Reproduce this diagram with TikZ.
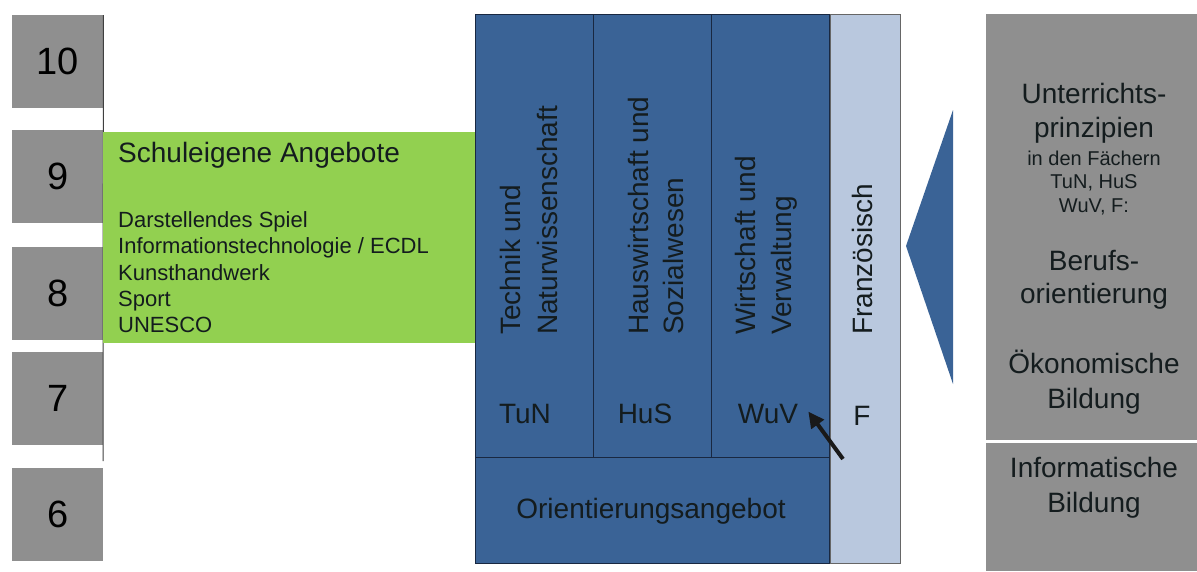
\documentclass[tikz,border=0pt]{standalone}
\usepackage{fontspec}
\setmainfont{Liberation Sans}
\usetikzlibrary{arrows.meta}
\definecolor{gradegray}{RGB}{143,143,143}
\definecolor{offergreen}{RGB}{146,208,80}
\definecolor{wpkblue}{RGB}{58,99,150}
\definecolor{franzblue}{RGB}{185,200,222}
\definecolor{wpkline}{RGB}{25,40,65}
\definecolor{darktext}{RGB}{20,28,30}
\begin{document}
\begin{tikzpicture}[x=1pt,y=-1pt,
    box/.style={rectangle,inner sep=0pt,anchor=north west},
    grade/.style={box,fill=gradegray,minimum width=91pt,minimum height=93pt,
      font=\fontsize{38}{40}\selectfont},
    wpk/.style={box,fill=wpkblue,draw=wpkline,line width=1.2pt,
      minimum width=118pt,minimum height=443pt},
    lbl/.style={inner sep=0pt,anchor=base,text=darktext,font=\fontsize{28}{32}\selectfont},
    vlbl/.style={lbl,anchor=base west,rotate=90},
    item/.style={inner sep=0pt,anchor=base west,text=darktext,font=\fontsize{22}{26}\selectfont},
    small/.style={lbl,font=\fontsize{20}{24}\selectfont}]
  \useasboundingbox (0,0) rectangle (1197,571);
  % grades
  \node[grade] (g10) at (12,15) {10};
  \node[grade] (g9) at (12,130) {9};
  \node[grade] (g8) at (12,247) {8};
  \node[grade] (g7) at (12,352) {7};
  \node[grade] (g6) at (12,468) {6};
  \coordinate (axisend) at (103,461);
  \draw[line width=1pt,black!75] (g10.north east) -- (axisend);
  % schuleigene Angebote
  \node[box,fill=offergreen,minimum width=372pt,minimum height=211pt] (offers) at (103,132) {};
  \node[lbl,anchor=base west] (offertitle) at (118,162) {Schuleigene Angebote};
  \node[item] (offer1) at (118,227) {Darstellendes Spiel};
  \node[item] (offer2) at (118,253) {Informationstechnologie / ECDL};
  \node[item] (offer3) at (118,280) {Kunsthandwerk};
  \node[item] (offer4) at (118,306) {Sport};
  \node[item] (offer5) at (118,332) {UNESCO};
  % Wahlpflichtkurse
  \node[wpk] (tun) at (475,14) {};
  \node[wpk] (hus) at (593,14) {};
  \node[wpk] (wuv) at (711,14) {};
  \node[box,fill=wpkblue,draw=wpkline,line width=1.2pt,minimum width=354pt,
    minimum height=106pt] (orient) at (475,457) {};
  \node[box,fill=franzblue,draw=black!60,line width=1pt,minimum width=70pt,
    minimum height=549pt] (franz) at (830,14) {};
  \node[vlbl] (tuna) at (520,335) {Technik und};
  \node[vlbl] (tunb) at (557,335) {Naturwissenschaft};
  \node[vlbl] (husa) at (648,335) {Hauswirtschaft und};
  \node[vlbl] (husb) at (683,335) {Sozialwesen};
  \node[vlbl] (wuva) at (755,335) {Wirtschaft und};
  \node[vlbl] (wuvb) at (791,335) {Verwaltung};
  \node[vlbl] (franzlbl) at (872,335) {Französisch};
  \node[lbl] (tunabbr) at (525,423) {TuN};
  \node[lbl] (husabbr) at (645,423) {HuS};
  \node[lbl] (wuvabbr) at (768,423) {WuV};
  \node[lbl] (franzabbr) at (862,425) {F};
  \node[lbl] (orientlbl) at (651,518) {Orientierungsangebot};
  \coordinate (arrowtail) at (843,459);
  \draw[-{Triangle[length=16pt,width=15pt]},line width=4pt,black!90]
    (arrowtail) -- ([xshift=10pt,yshift=2pt]wuvabbr.east);
  % Unterrichtsprinzipien
  \fill[wpkblue] (906,246) -- (953,110) -- (953,384) -- cycle;
  \node[box,fill=gradegray,minimum width=211pt,minimum height=426pt] (principles) at (986,14) {};
  \node[box,fill=gradegray,minimum width=211pt,minimum height=128pt] (informatics) at (986,443) {};
  \node[lbl] (p1) at (1094,103) {Unterrichts-};
  \node[lbl] (p2) at (1094,137) {prinzipien};
  \node[small] (p3) at (1094,165) {in den Fächern};
  \node[small] (p4) at (1094,188) {TuN, HuS};
  \node[small] (p5) at (1094,212) {WuV, F:};
  \node[lbl] (p6) at (1094,270) {Berufs-};
  \node[lbl] (p7) at (1094,303) {orientierung};
  \node[lbl] (p8) at (1094,373) {Ökonomische};
  \node[lbl] (p9) at (1094,408) {Bildung};
  \node[lbl] (i1) at (1094,477) {Informatische};
  \node[lbl] (i2) at (1094,512) {Bildung};
\end{tikzpicture}
\end{document}
